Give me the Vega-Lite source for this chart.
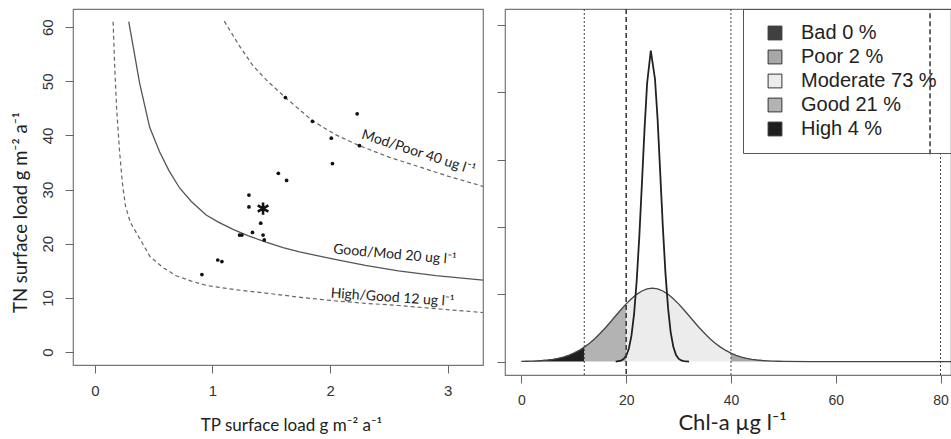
{
  "$schema": "https://vega.github.io/schema/vega-lite/v6.json",
  "background": "white",
  "padding": {"left": 10, "top": 7, "right": 0, "bottom": 0},
  "spacing": 11,
  "resolve": {"legend": {"fill": "independent"}, "scale": {"fill": "independent"}},
  "datasets": {
    "curves": [
      {"curve": "hg", "tp": 0.155, "tn": 61},
      {"curve": "hg", "tp": 0.17, "tn": 52},
      {"curve": "hg", "tp": 0.185, "tn": 45},
      {"curve": "hg", "tp": 0.21, "tn": 37},
      {"curve": "hg", "tp": 0.235, "tn": 31},
      {"curve": "hg", "tp": 0.26, "tn": 27},
      {"curve": "hg", "tp": 0.3, "tn": 24},
      {"curve": "hg", "tp": 0.38, "tn": 21},
      {"curve": "hg", "tp": 0.47, "tn": 17.6},
      {"curve": "hg", "tp": 0.58, "tn": 15.6},
      {"curve": "hg", "tp": 0.69, "tn": 14.1},
      {"curve": "hg", "tp": 0.82, "tn": 13.1},
      {"curve": "hg", "tp": 0.95, "tn": 12.3},
      {"curve": "hg", "tp": 1.2, "tn": 11.5},
      {"curve": "hg", "tp": 1.45, "tn": 10.9},
      {"curve": "hg", "tp": 1.75, "tn": 10.1},
      {"curve": "hg", "tp": 2.02, "tn": 9.5},
      {"curve": "hg", "tp": 2.3, "tn": 9.0},
      {"curve": "hg", "tp": 2.58, "tn": 8.6},
      {"curve": "hg", "tp": 2.9, "tn": 8.0},
      {"curve": "hg", "tp": 3.3, "tn": 7.3},
      {"curve": "mp", "tp": 1.1, "tn": 61.1},
      {"curve": "mp", "tp": 1.23, "tn": 56.5},
      {"curve": "mp", "tp": 1.34, "tn": 53.0},
      {"curve": "mp", "tp": 1.455, "tn": 50.3},
      {"curve": "mp", "tp": 1.62, "tn": 47.0},
      {"curve": "mp", "tp": 1.85, "tn": 42.7},
      {"curve": "mp", "tp": 2.05, "tn": 40.1},
      {"curve": "mp", "tp": 2.25, "tn": 38.1},
      {"curve": "mp", "tp": 2.5, "tn": 36.0},
      {"curve": "mp", "tp": 2.73, "tn": 34.4},
      {"curve": "mp", "tp": 3.0, "tn": 32.5},
      {"curve": "mp", "tp": 3.3, "tn": 30.6}
    ],
    "solid": [
      {"tp": 0.288, "tn": 61},
      {"tp": 0.325, "tn": 56.5},
      {"tp": 0.38, "tn": 49.7},
      {"tp": 0.466, "tn": 41.5},
      {"tp": 0.55, "tn": 37.0},
      {"tp": 0.63, "tn": 33.5},
      {"tp": 0.72, "tn": 30.3},
      {"tp": 0.82, "tn": 27.8},
      {"tp": 0.946, "tn": 25.3},
      {"tp": 1.05, "tn": 24.0},
      {"tp": 1.17, "tn": 22.7},
      {"tp": 1.3, "tn": 21.5},
      {"tp": 1.455, "tn": 20.3},
      {"tp": 1.6, "tn": 19.3},
      {"tp": 1.74, "tn": 18.5},
      {"tp": 2.02, "tn": 17.2},
      {"tp": 2.3, "tn": 16.0},
      {"tp": 2.58, "tn": 15.0},
      {"tp": 2.9, "tn": 14.1},
      {"tp": 3.3, "tn": 13.3}
    ],
    "lakes": [
      {"tp": 1.62, "tn": 47.0},
      {"tp": 2.23, "tn": 44.0},
      {"tp": 1.85, "tn": 42.6},
      {"tp": 2.01, "tn": 39.5},
      {"tp": 2.25, "tn": 38.1},
      {"tp": 2.02, "tn": 34.8},
      {"tp": 1.56, "tn": 33.0},
      {"tp": 1.63, "tn": 31.7},
      {"tp": 1.31, "tn": 29.0},
      {"tp": 1.31, "tn": 26.8},
      {"tp": 1.41, "tn": 23.8},
      {"tp": 1.34, "tn": 22.1},
      {"tp": 1.23, "tn": 21.6},
      {"tp": 1.25, "tn": 21.6},
      {"tp": 1.43, "tn": 21.6},
      {"tp": 1.44, "tn": 20.7},
      {"tp": 1.045, "tn": 17.0},
      {"tp": 1.08, "tn": 16.7},
      {"tp": 0.91, "tn": 14.3}
    ],
    "star": [{"tp": 1.43, "tn": 26.5}],
    "labels": [
      {"label": "Mod/Poor 40 ug l⁻¹", "tp": 2.75, "tn": 36.8, "grp": "mp"},
      {"label": "Good/Mod 20 ug l⁻¹", "tp": 2.55, "tn": 17.95, "grp": "gm"},
      {"label": "High/Good 12 ug l⁻¹", "tp": 2.53, "tn": 10.0, "grp": "hg"}
    ],
    "wide": [
      {"chl": 0, "dens": 0.0026}, {"chl": 1, "dens": 0.0042}, {"chl": 2, "dens": 0.0066},
      {"chl": 3, "dens": 0.0103}, {"chl": 4, "dens": 0.0155}, {"chl": 5, "dens": 0.023},
      {"chl": 6, "dens": 0.0335}, {"chl": 7, "dens": 0.048}, {"chl": 8, "dens": 0.067},
      {"chl": 9, "dens": 0.092}, {"chl": 10, "dens": 0.1245}, {"chl": 11, "dens": 0.165},
      {"chl": 12, "dens": 0.214}, {"chl": 13, "dens": 0.272}, {"chl": 14, "dens": 0.339},
      {"chl": 15, "dens": 0.416}, {"chl": 16, "dens": 0.499}, {"chl": 17, "dens": 0.588},
      {"chl": 18, "dens": 0.68}, {"chl": 19, "dens": 0.77}, {"chl": 20, "dens": 0.857},
      {"chl": 21, "dens": 0.934}, {"chl": 22, "dens": 0.999}, {"chl": 23, "dens": 1.049},
      {"chl": 24, "dens": 1.08}, {"chl": 25, "dens": 1.09}, {"chl": 26, "dens": 1.08},
      {"chl": 27, "dens": 1.049}, {"chl": 28, "dens": 0.999}, {"chl": 29, "dens": 0.934},
      {"chl": 30, "dens": 0.857}, {"chl": 31, "dens": 0.77}, {"chl": 32, "dens": 0.68},
      {"chl": 33, "dens": 0.588}, {"chl": 34, "dens": 0.499}, {"chl": 35, "dens": 0.416},
      {"chl": 36, "dens": 0.339}, {"chl": 37, "dens": 0.272}, {"chl": 38, "dens": 0.214},
      {"chl": 39, "dens": 0.165}, {"chl": 40, "dens": 0.1245}, {"chl": 41, "dens": 0.092},
      {"chl": 42, "dens": 0.067}, {"chl": 43, "dens": 0.048}, {"chl": 44, "dens": 0.0335},
      {"chl": 45, "dens": 0.023}, {"chl": 46, "dens": 0.0155}, {"chl": 47, "dens": 0.0103},
      {"chl": 48, "dens": 0.0066}, {"chl": 49, "dens": 0.0042}, {"chl": 50, "dens": 0.0026},
      {"chl": 55, "dens": 0.0002}, {"chl": 100, "dens": 0}
    ],
    "fills": [
      {"cls": "High 4 %", "chl": 0, "dens": 0.0026}, {"cls": "High 4 %", "chl": 1, "dens": 0.0042},
      {"cls": "High 4 %", "chl": 2, "dens": 0.0066}, {"cls": "High 4 %", "chl": 3, "dens": 0.0103},
      {"cls": "High 4 %", "chl": 4, "dens": 0.0155}, {"cls": "High 4 %", "chl": 5, "dens": 0.023},
      {"cls": "High 4 %", "chl": 6, "dens": 0.0335}, {"cls": "High 4 %", "chl": 7, "dens": 0.048},
      {"cls": "High 4 %", "chl": 8, "dens": 0.067}, {"cls": "High 4 %", "chl": 9, "dens": 0.092},
      {"cls": "High 4 %", "chl": 10, "dens": 0.1245}, {"cls": "High 4 %", "chl": 11, "dens": 0.165},
      {"cls": "High 4 %", "chl": 12, "dens": 0.214},
      {"cls": "Good 21 %", "chl": 12, "dens": 0.214}, {"cls": "Good 21 %", "chl": 13, "dens": 0.272},
      {"cls": "Good 21 %", "chl": 14, "dens": 0.339}, {"cls": "Good 21 %", "chl": 15, "dens": 0.416},
      {"cls": "Good 21 %", "chl": 16, "dens": 0.499}, {"cls": "Good 21 %", "chl": 17, "dens": 0.588},
      {"cls": "Good 21 %", "chl": 18, "dens": 0.68}, {"cls": "Good 21 %", "chl": 19, "dens": 0.77},
      {"cls": "Good 21 %", "chl": 20, "dens": 0.857},
      {"cls": "Moderate 73 %", "chl": 20, "dens": 0.857}, {"cls": "Moderate 73 %", "chl": 21, "dens": 0.934},
      {"cls": "Moderate 73 %", "chl": 22, "dens": 0.999}, {"cls": "Moderate 73 %", "chl": 23, "dens": 1.049},
      {"cls": "Moderate 73 %", "chl": 24, "dens": 1.08}, {"cls": "Moderate 73 %", "chl": 25, "dens": 1.09},
      {"cls": "Moderate 73 %", "chl": 26, "dens": 1.08}, {"cls": "Moderate 73 %", "chl": 27, "dens": 1.049},
      {"cls": "Moderate 73 %", "chl": 28, "dens": 0.999}, {"cls": "Moderate 73 %", "chl": 29, "dens": 0.934},
      {"cls": "Moderate 73 %", "chl": 30, "dens": 0.857}, {"cls": "Moderate 73 %", "chl": 31, "dens": 0.77},
      {"cls": "Moderate 73 %", "chl": 32, "dens": 0.68}, {"cls": "Moderate 73 %", "chl": 33, "dens": 0.588},
      {"cls": "Moderate 73 %", "chl": 34, "dens": 0.499}, {"cls": "Moderate 73 %", "chl": 35, "dens": 0.416},
      {"cls": "Moderate 73 %", "chl": 36, "dens": 0.339}, {"cls": "Moderate 73 %", "chl": 37, "dens": 0.272},
      {"cls": "Moderate 73 %", "chl": 38, "dens": 0.214}, {"cls": "Moderate 73 %", "chl": 39, "dens": 0.165},
      {"cls": "Moderate 73 %", "chl": 40, "dens": 0.1245},
      {"cls": "Poor 2 %", "chl": 40, "dens": 0.1245}, {"cls": "Poor 2 %", "chl": 41, "dens": 0.092},
      {"cls": "Poor 2 %", "chl": 42, "dens": 0.067}, {"cls": "Poor 2 %", "chl": 43, "dens": 0.048},
      {"cls": "Poor 2 %", "chl": 44, "dens": 0.0335}, {"cls": "Poor 2 %", "chl": 45, "dens": 0.023},
      {"cls": "Poor 2 %", "chl": 46, "dens": 0.0155}, {"cls": "Poor 2 %", "chl": 47, "dens": 0.0103},
      {"cls": "Poor 2 %", "chl": 48, "dens": 0.0066}
    ],
    "narrow": [
      {"chl": 18, "dens": 0}, {"chl": 19, "dens": 0.014}, {"chl": 19.5, "dens": 0.036},
      {"chl": 20, "dens": 0.085}, {"chl": 20.5, "dens": 0.19}, {"chl": 21, "dens": 0.38},
      {"chl": 21.5, "dens": 0.7}, {"chl": 22, "dens": 1.19}, {"chl": 22.5, "dens": 1.85},
      {"chl": 23, "dens": 2.64}, {"chl": 23.5, "dens": 3.45}, {"chl": 24, "dens": 4.14},
      {"chl": 24.7, "dens": 4.62}, {"chl": 25.5, "dens": 4.2}, {"chl": 26, "dens": 3.6},
      {"chl": 26.5, "dens": 2.8}, {"chl": 27, "dens": 2.0}, {"chl": 27.5, "dens": 1.31},
      {"chl": 28, "dens": 0.79}, {"chl": 28.5, "dens": 0.43}, {"chl": 29, "dens": 0.22},
      {"chl": 29.5, "dens": 0.1}, {"chl": 30, "dens": 0.043}, {"chl": 30.5, "dens": 0.017},
      {"chl": 31, "dens": 0.006}, {"chl": 32, "dens": 0}
    ],
    "thresholds": [
      {"chl": 12, "kind": "dotted"},
      {"chl": 20, "kind": "dashed"},
      {"chl": 40, "kind": "dotted"}
    ]
  },
  "hconcat": [
    {
      "width": 410,
      "height": 356,
      "encoding": {
        "x": {
          "field": "tp", "type": "quantitative",
          "scale": {"domain": [-0.186, 3.3], "nice": false, "zero": false},
          "axis": {
            "values": [0, 1, 2, 3], "title": "TP surface load g m⁻² a⁻¹",
            "labelFontSize": 15, "labelPadding": 10, "titleFontSize": 17,
            "titlePadding": 19, "titleX": 218
          }
        },
        "y": {
          "field": "tn", "type": "quantitative",
          "scale": {"domain": [-2.39, 63.35], "nice": false, "zero": false},
          "axis": {
            "values": [0, 10, 20, 30, 40, 50, 60], "title": "TN surface load g m⁻² a⁻¹",
            "labelFontSize": 15, "labelAngle": 270, "labelAlign": "center", "labelBaseline": "bottom",
            "labelPadding": 10, "titleFontSize": 18.5, "titlePadding": 10, "titleY": 203
          }
        }
      },
      "layer": [
        {
          "data": {"name": "curves"},
          "mark": {"type": "line", "color": "#666", "strokeWidth": 1.2, "strokeDash": [4, 3], "clip": true},
          "encoding": {"detail": {"field": "curve"}}
        },
        {
          "data": {"name": "solid"},
          "mark": {"type": "line", "color": "#555", "strokeWidth": 1.3, "clip": true}
        },
        {
          "data": {"name": "lakes"},
          "mark": {"type": "point", "filled": true, "color": "#111", "size": 14, "opacity": 1}
        },
        {
          "data": {"name": "star"},
          "mark": {
            "type": "point", "shape": "M0,-1L0,1M-0.87,-0.5L0.87,0.5M-0.87,0.5L0.87,-0.5",
            "filled": false, "color": "#111", "strokeWidth": 2.6, "size": 150, "opacity": 1
          }
        },
        {
          "data": {"name": "labels"},
          "transform": [{"filter": "datum.grp === 'mp'"}],
          "mark": {"type": "text", "font": "Lato", "fontSize": 14, "color": "#222", "angle": 18, "align": "center", "baseline": "middle"},
          "encoding": {"text": {"field": "label"}}
        },
        {
          "data": {"name": "labels"},
          "transform": [{"filter": "datum.grp === 'gm'"}],
          "mark": {"type": "text", "font": "Lato", "fontSize": 14, "color": "#222", "angle": 5, "align": "center", "baseline": "middle"},
          "encoding": {"text": {"field": "label"}}
        },
        {
          "data": {"name": "labels"},
          "transform": [{"filter": "datum.grp === 'hg'"}],
          "mark": {"type": "text", "font": "Lato", "fontSize": 14, "color": "#222", "angle": 4, "align": "center", "baseline": "middle"},
          "encoding": {"text": {"field": "label"}}
        }
      ]
    },
    {
      "width": 446,
      "height": 366,
      "encoding": {
        "x": {
          "field": "chl", "type": "quantitative",
          "scale": {"domain": [-3.13, 82.0], "nice": false, "zero": false},
          "axis": {
            "values": [0, 20, 40, 60, 80], "title": "Chl-a µg l⁻¹",
            "labelFontSize": 14, "labelPadding": 10, "titleFontSize": 22,
            "titlePadding": 5, "titleX": 227
          }
        }
      },
      "layer": [
        {
          "data": {"name": "fills"},
          "mark": {"type": "area", "interpolate": "linear", "clip": true},
          "encoding": {
            "y": {
              "field": "dens", "type": "quantitative", "stack": null,
              "scale": {"domain": [-0.2, 5.24], "nice": false, "zero": false},
              "axis": {"values": [0, 1, 2, 3, 4, 5], "labels": false, "title": null}
            },
            "y2": {"datum": 0},
            "fill": {
              "field": "cls", "type": "nominal",
              "scale": {
                "domain": ["Bad 0 %", "Poor 2 %", "Moderate 73 %", "Good 21 %", "High 4 %"],
                "range": ["#404040", "#a8a8a8", "#ececec", "#b3b3b3", "#1e1e1e"]
              },
              "legend": {
                "title": null, "orient": "top-right", "offset": 0, "padding": 14,
                "strokeColor": "#555", "symbolType": "square", "symbolSize": 190,
                "symbolStrokeColor": "#333", "symbolStrokeWidth": 1, "symbolOffset": 8,
                "labelFont": "Liberation Sans", "labelFontSize": 20, "labelColor": "#222",
                "labelOffset": 16, "rowPadding": 4, "labelLimit": 300
              }
            }
          }
        },
        {
          "data": {"name": "wide"},
          "mark": {"type": "line", "color": "#444", "strokeWidth": 1.3, "clip": true},
          "encoding": {"y": {"field": "dens", "type": "quantitative"}}
        },
        {
          "data": {"name": "narrow"},
          "mark": {"type": "line", "color": "#222", "strokeWidth": 1.8, "clip": true},
          "encoding": {"y": {"field": "dens", "type": "quantitative"}}
        },
        {
          "data": {"name": "thresholds"},
          "transform": [{"filter": "datum.kind === 'dotted'"}],
          "mark": {"type": "rule", "color": "#444", "strokeWidth": 1, "strokeDash": [2, 2]},
          "encoding": {}
        },
        {
          "data": {"name": "thresholds"},
          "transform": [{"filter": "datum.kind === 'dashed'"}],
          "mark": {"type": "rule", "color": "#333", "strokeWidth": 1.5, "strokeDash": [5, 3]},
          "encoding": {}
        },
        {
          "data": {"values": [{"chl": 80}]},
          "mark": {"type": "rule", "color": "#444", "strokeWidth": 1, "strokeDash": [2, 2]},
          "encoding": {"y": {"datum": -0.2}, "y2": {"datum": 3.08}}
        },
        {
          "data": {"values": [{"chl": 78}]},
          "mark": {"type": "rule", "color": "#333", "strokeWidth": 1.5, "strokeDash": [5, 3]},
          "encoding": {"y": {"datum": 3.08}, "y2": {"datum": 5.24}}
        }
      ]
    }
  ],
  "config": {
    "view": {"stroke": "#777", "strokeWidth": 1.2},
    "axis": {
      "grid": false, "domain": false, "tickColor": "#666", "tickSize": 8,
      "labelFont": "Liberation Sans", "labelColor": "#333", "labelOverlap": false, "labelFlush": false,
      "titleFont": "Lato", "titleFontWeight": "normal", "titleColor": "#222"
    }
  }
}
